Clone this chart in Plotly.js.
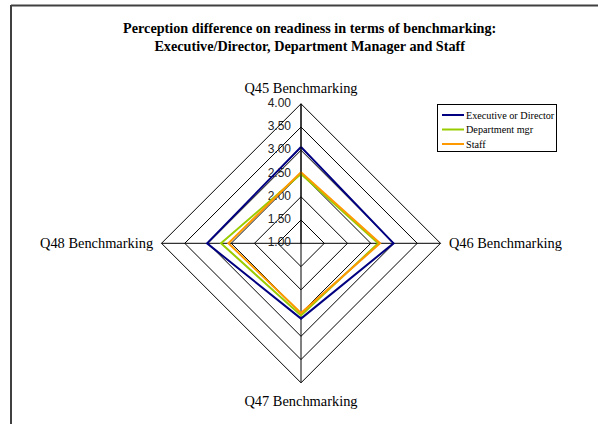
<!DOCTYPE html>
<html>
<head>
<meta charset="utf-8">
<script src="https://cdn.plot.ly/plotly-3.0.1.min.js"></script>
<style>html,body{margin:0;padding:0;background:#fff;}#chart{width:598px;height:424px;}</style>
</head>
<body>
<div id="chart"></div>
<script>
const categories = ["Q45 Benchmarking", "Q46 Benchmarking", "Q47 Benchmarking", "Q48 Benchmarking"];
const seriesNames = ["Executive or Director", "Department mgr", "Staff"];
const execValues = [3.07, 2.99, 2.62, 3.02];
const deptValues = [2.49, 2.66, 2.55, 2.72];
const staffValues = [2.53, 2.70, 2.50, 2.56];
const radialTicks = [1.0, 1.5, 2.0, 2.5, 3.0, 3.5, 4.0];
const radialRange = [0.999, 4];
const colors = ["#000080", "#99CC00", "#FF9900"];

function closed(arr) { return arr.concat([arr[0]]); }
const allValues = [execValues, deptValues, staffValues];

// radial tick labels, placed through the polar scale on the Q45 spoke
const tickLabelTrace = {
  type: "scatterpolar",
  mode: "text",
  r: radialTicks,
  theta: radialTicks.map(() => categories[0]),
  text: radialTicks.map(v => v.toFixed(2) + "\u00a0\u00a0\u00a0"),
  textposition: "middle left",
  textfont: {family: "Liberation Sans", size: 12, color: "#222"},
  cliponaxis: false,
  showlegend: false,
  hoverinfo: "skip"
};

const traces = [tickLabelTrace].concat(allValues.map((vals, i) => ({
  type: "scatterpolar",
  mode: "lines",
  r: closed(vals),
  theta: closed(categories),
  name: seriesNames[i],
  line: {color: colors[i], width: 2},
  hoverinfo: "skip"
})));

const W = 598, H = 424;
const cx = 301, cy = 243.3, R = 139.5;
const layout = {
  width: W, height: H,
  margin: {l: 0, r: 0, t: 0, b: 0},
  paper_bgcolor: "#fff",
  showlegend: true,
  title: {
    text: "<b>Perception difference on readiness in terms of benchmarking:<br>Executive/Director, Department Manager and Staff</b>",
    font: {family: "Liberation Serif", size: 14.2, color: "#000"},
    x: 309.7 / W, xanchor: "center", y: 1 - 33 / H, yanchor: "top"
  },
  legend: {
    x: 437 / W, xanchor: "left", y: 1 - 104 / H, yanchor: "top",
    bordercolor: "#000", borderwidth: 1, bgcolor: "#fff",
    font: {family: "Liberation Serif", size: 10.2, color: "#000"},
    tracegroupgap: 0
  },
  polar: {
    domain: {x: [(cx - R) / W, (cx + R) / W], y: [(H - cy - R) / H, (H - cy + R) / H]},
    bgcolor: "#fff",
    gridshape: "linear",
    angularaxis: {
      rotation: 90, direction: "clockwise",
      showline: true, linecolor: "#000", linewidth: 1,
      gridcolor: "#000", gridwidth: 1,
      ticks: "outside", ticklen: 5, tickcolor: "rgba(0,0,0,0)",
      tickfont: {family: "Liberation Serif", size: 14.4, color: "#000"}
    },
    radialaxis: {
      range: radialRange, angle: 90, side: "counterclockwise",
      tickvals: radialTicks, showticklabels: false,
      showline: true, linecolor: "#000", linewidth: 1,
      gridcolor: "#000", gridwidth: 1,
      ticks: ""
    }
  },
  shapes: [
    {type: "line", xref: "paper", yref: "paper", x0: 11 / W, x1: 11 / W, y0: 0, y1: 1 - 5 / H, line: {color: "#404040", width: 2}},
    {type: "line", xref: "paper", yref: "paper", x0: 11 / W, x1: 1, y0: 1 - 5.5 / H, y1: 1 - 5.5 / H, line: {color: "#404040", width: 2}}
  ]
};
Plotly.newPlot("chart", traces, layout, {displayModeBar: false, staticPlot: true}).then(() => {
  const leg = document.querySelector("#chart .legend");
  if (!leg) return;
  const bg = leg.querySelector("rect.bg");
  if (bg) { bg.setAttribute("width", 119); bg.setAttribute("height", 47); }
  leg.querySelectorAll(".traces").forEach((g, i) => {
    g.setAttribute("transform", "translate(0," + (11 + i * 14.5) + ")");
    const t = g.querySelector("text.legendtext");
    if (t) t.setAttribute("x", 29);
    g.querySelectorAll(".legendlines path").forEach(p => p.setAttribute("d", "M5,0h22"));
  });
});
</script>
</body>
</html>
